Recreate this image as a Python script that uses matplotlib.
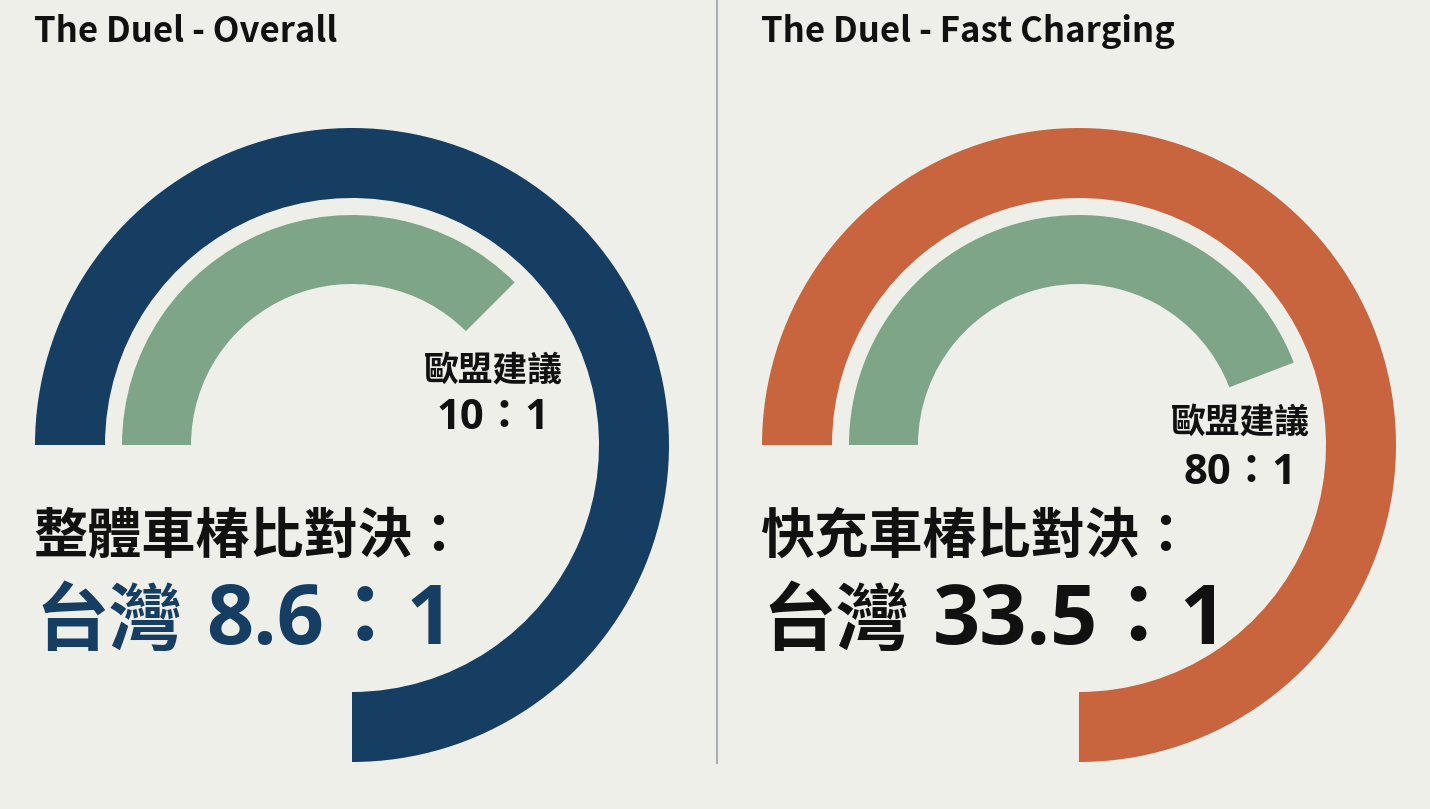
import matplotlib
matplotlib.use('Agg')
import matplotlib.pyplot as plt
from matplotlib.patches import Wedge

plt.rcParams['font.family'] = ['Noto Sans CJK TC', 'DejaVu Sans']
NUM_FONT = ['Open Sans', 'Noto Sans CJK TC']

W, H = 1430, 809

titles = ['The Duel - Overall', 'The Duel - Fast Charging']
headlines = ['整體車椿比對決：', '快充車椿比對決：']
taiwan_ratio = ['8.6', '33.5']
eu_ratio = ['10', '80']
eu_label = '歐盟建議'
# where each arc stops (visual degrees, arcs start at 180 and run clockwise)
outer_end = [-90, -90]
inner_end = [45, 21]

outer_colors = ['#163d62', '#c8653f']
inner_color = '#7fa589'
taiwan_colors = ['#163d62', '#111111']
bg = '#efefea'

centers = [(352, 445), (1079, 445)]
eu_pos = [(493, 370, 418), (1240, 422, 473)]

fig = plt.figure(figsize=(W / 100, H / 100), dpi=100)
fig.patch.set_facecolor(bg)
ax = fig.add_axes([0, 0, 1, 1])
ax.set_xlim(0, W)
ax.set_ylim(H, 0)
ax.axis('off')

for i in range(2):
    cx, cy = centers[i]
    x0 = cx - 317
    # y axis is flipped, so data angle = 360 - visual angle
    ax.add_patch(Wedge((cx, cy), 317, 180, 360 - outer_end[i], width=70,
                       facecolor=outer_colors[i], edgecolor='none'))
    ax.add_patch(Wedge((cx, cy), 230, 180, 360 - inner_end[i], width=69,
                       facecolor=inner_color, edgecolor='none'))

    ax.text(x0 - 1, 42, titles[i], fontsize=25, fontweight='bold',
            color='#111111', va='baseline', ha='left')

    ex, ey1, ey2 = eu_pos[i]
    ax.text(ex, ey1, eu_label, fontsize=25, fontweight='bold',
            color='#111111', ha='center', va='center')
    ax.text(ex, ey2, f'{eu_ratio[i]}：1', fontsize=30, fontweight='bold',
            family=NUM_FONT, color='#111111', ha='center', va='center')

    ax.text(x0 - 2, 537, headlines[i], fontsize=39, fontweight='bold',
            color='#111111', ha='left', va='center')
    ax.text(x0, 644, '台灣', fontsize=53, fontweight='bold',
            color=taiwan_colors[i], ha='left', va='baseline')
    ax.text(x0 + 171, 644, f'{taiwan_ratio[i]}：1', fontsize=59.5, fontweight='bold',
            family=NUM_FONT, color=taiwan_colors[i], ha='left', va='baseline')

ax.plot([717, 717], [0, 763], color='#a9aeb5', linewidth=1.5)

fig.savefig('out.png', dpi=100, facecolor=bg)
print('saved out.png')
